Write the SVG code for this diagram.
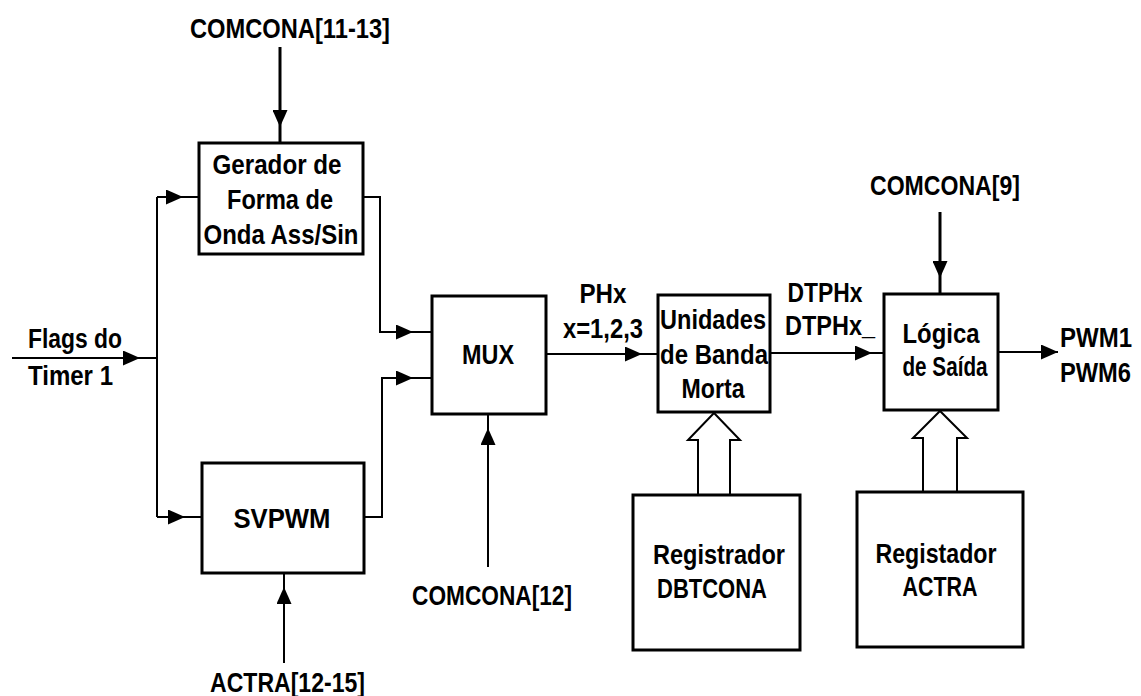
<svg xmlns="http://www.w3.org/2000/svg" width="1141" height="696" viewBox="0 0 1141 696">
<style>
  .box { fill: #fff; stroke: #000; stroke-width: 3; }
  .ln { fill: none; stroke: #000; stroke-width: 2; }
  .thk { fill: none; stroke: #000; stroke-width: 3; }
  .bus { fill: #fff; stroke: #000; stroke-width: 2; stroke-linejoin: miter; }
  text { font-family: "Liberation Sans", Arial, sans-serif; font-weight: bold; font-size: 27px; fill: #000; }
  .m { text-anchor: middle; }
</style>
<defs>
  <marker id="ah" viewBox="0 0 17 15" refX="17" refY="7.5" markerWidth="17" markerHeight="15" markerUnits="userSpaceOnUse" orient="auto">
    <path d="M0,0 L17,7.5 L0,15 Z" fill="#000"/>
  </marker>
</defs>
<rect width="1141" height="696" fill="#fff"/>

<g id="connectors">
  <!-- COMCONA[11-13] -> Gerador -->
  <path class="thk" d="M280,47 V127" marker-end="url(#ah)"/>
  <path class="thk" d="M280,127 V143"/>
  <!-- Flags -->
  <path class="ln" d="M12,358 H140" marker-end="url(#ah)"/>
  <path class="ln" d="M140,358 H157"/>
  <path class="ln" d="M157,197 V517"/>
  <path class="ln" d="M157,197 H183" marker-end="url(#ah)"/>
  <path class="ln" d="M183,197 H199"/>
  <path class="ln" d="M157,517 H185" marker-end="url(#ah)"/>
  <path class="ln" d="M185,517 H202"/>
  <!-- Gerador -> MUX -->
  <path class="ln" d="M363,197 H380 V332 H413" marker-end="url(#ah)"/>
  <path class="ln" d="M413,332 H432"/>
  <!-- SVPWM -> MUX -->
  <path class="ln" d="M364,517 H382 V378 H413" marker-end="url(#ah)"/>
  <path class="ln" d="M413,378 H432"/>
  <!-- ACTRA[12-15] -> SVPWM -->
  <path class="ln" d="M284,663 V587" marker-end="url(#ah)"/>
  <path class="ln" d="M284,587 V573"/>
  <!-- COMCONA[12] -> MUX -->
  <path class="ln" d="M488,567 V428" marker-end="url(#ah)"/>
  <path class="ln" d="M488,428 V414"/>
  <!-- MUX -> Unidades -->
  <path class="ln" d="M546,354 H642" marker-end="url(#ah)"/>
  <path class="ln" d="M642,354 H658"/>
  <!-- Unidades -> Logica -->
  <path class="ln" d="M770,353 H872" marker-end="url(#ah)"/>
  <path class="ln" d="M872,353 H884"/>
  <!-- COMCONA[9] -> Logica -->
  <path class="thk" d="M940,212 V278" marker-end="url(#ah)"/>
  <path class="thk" d="M940,278 V294"/>
  <!-- Logica -> PWM -->
  <path class="ln" d="M998,352 H1058" marker-end="url(#ah)"/>
  <!-- bus arrows -->
  <path class="bus" d="M698,495 V440 H688 L714,413 L740,440 H730 V495"/>
  <path class="bus" d="M923,492 V438 H913 L940,411 L967,438 H957 V492"/>
</g>

<g id="lbl-comcona1113"><text class="m" x="290" y="38" textLength="200" lengthAdjust="spacingAndGlyphs">COMCONA[11-13]</text></g>
<g id="lbl-flags">
  <text x="28" y="348" textLength="94" lengthAdjust="spacingAndGlyphs">Flags do</text>
  <text x="28" y="385" textLength="85" lengthAdjust="spacingAndGlyphs">Timer 1</text>
</g>
<g id="lbl-actra1215"><text x="210" y="692" textLength="155" lengthAdjust="spacingAndGlyphs">ACTRA[12-15]</text></g>
<g id="lbl-comcona12"><text class="m" x="492" y="605" textLength="160" lengthAdjust="spacingAndGlyphs">COMCONA[12]</text></g>
<g id="lbl-phx">
  <text class="m" x="603" y="303" textLength="47" lengthAdjust="spacingAndGlyphs">PHx</text>
  <text class="m" x="603" y="338" textLength="80" lengthAdjust="spacingAndGlyphs">x=1,2,3</text>
</g>
<g id="lbl-dtphx">
  <text class="m" x="825" y="302" textLength="75" lengthAdjust="spacingAndGlyphs">DTPHx</text>
  <text x="785" y="335" textLength="90" lengthAdjust="spacingAndGlyphs">DTPHx_</text>
</g>
<g id="lbl-comcona9"><text class="m" x="945" y="195" textLength="150" lengthAdjust="spacingAndGlyphs">COMCONA[9]</text></g>
<g id="lbl-pwm">
  <text x="1060" y="347" textLength="72" lengthAdjust="spacingAndGlyphs">PWM1</text>
  <text x="1060" y="382" textLength="71" lengthAdjust="spacingAndGlyphs">PWM6</text>
</g>

<g id="gerador">
  <rect class="box" x="199" y="143" width="164" height="111"/>
  <text class="m" x="277" y="174" textLength="129" lengthAdjust="spacingAndGlyphs">Gerador de</text>
  <text class="m" x="280" y="209" textLength="106" lengthAdjust="spacingAndGlyphs">Forma de</text>
  <text class="m" x="281" y="244" textLength="155" lengthAdjust="spacingAndGlyphs">Onda Ass/Sin</text>
</g>
<g id="svpwm">
  <rect class="box" x="202" y="463" width="162" height="110"/>
  <text class="m" x="282" y="528" textLength="97" lengthAdjust="spacingAndGlyphs">SVPWM</text>
</g>
<g id="mux">
  <rect class="box" x="432" y="296" width="114" height="118"/>
  <text class="m" x="488" y="364" textLength="52" lengthAdjust="spacingAndGlyphs">MUX</text>
</g>
<g id="unidades">
  <rect class="box" x="658" y="295" width="112" height="117"/>
  <text class="m" x="713" y="329" textLength="106" lengthAdjust="spacingAndGlyphs">Unidades</text>
  <text class="m" x="714" y="364" textLength="108" lengthAdjust="spacingAndGlyphs">de Banda</text>
  <text class="m" x="713" y="398" textLength="63" lengthAdjust="spacingAndGlyphs">Morta</text>
</g>
<g id="logica">
  <rect class="box" x="884" y="294" width="114" height="116"/>
  <text class="m" x="941" y="343" textLength="77" lengthAdjust="spacingAndGlyphs">Lógica</text>
  <text class="m" x="945" y="376" textLength="85" lengthAdjust="spacingAndGlyphs">de Saída</text>
</g>
<g id="reg-dbtcona">
  <rect class="box" x="633" y="495" width="167" height="155"/>
  <text class="m" x="719" y="564" textLength="132" lengthAdjust="spacingAndGlyphs">Registrador</text>
  <text class="m" x="712" y="598" textLength="110" lengthAdjust="spacingAndGlyphs">DBTCONA</text>
</g>
<g id="reg-actra">
  <rect class="box" x="857" y="492" width="166" height="155"/>
  <text class="m" x="936" y="563" textLength="121" lengthAdjust="spacingAndGlyphs">Registador</text>
  <text class="m" x="940" y="596" textLength="75" lengthAdjust="spacingAndGlyphs">ACTRA</text>
</g>
</svg>
